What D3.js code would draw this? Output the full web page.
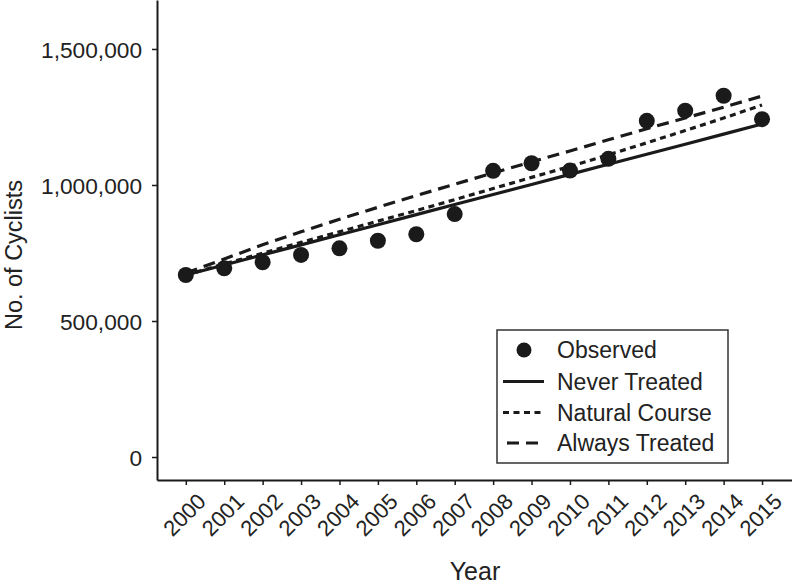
<!DOCTYPE html>
<html>
<head>
<meta charset="utf-8">
<script src="https://cdn.jsdelivr.net/npm/d3@7"></script>
<style>
  html, body { margin: 0; padding: 0; background: #fff; }
  svg { display: block; font-family: "Liberation Sans", Arial, sans-serif; }
</style>
</head>
<body>
<svg id="chart" width="792" height="587"></svg>
<script>
// ---- data ----
const years = [2000, 2001, 2002, 2003, 2004, 2005, 2006, 2007, 2008, 2009, 2010, 2011, 2012, 2013, 2014, 2015];
const observed = [669000, 694000, 716000, 743000, 767000, 795000, 819000, 893000, 1052000, 1080000, 1053000, 1096000, 1236000, 1273000, 1328000, 1242000];
const neverTreated = [669000, 706000, 743000, 780000, 817000, 854000, 891000, 928000, 965000, 1002000, 1039000, 1076000, 1113000, 1150000, 1187000, 1224000];
const naturalCourse = [669000, 710000, 749000, 789000, 828000, 867000, 906000, 946000, 987000, 1028000, 1068000, 1111000, 1155000, 1200000, 1246000, 1294000];
const alwaysTreated = [676000, 728000, 780000, 828000, 874000, 918000, 961000, 1003000, 1044000, 1085000, 1125000, 1166000, 1207000, 1246000, 1286000, 1327000];
const yTicks = [0, 500000, 1000000, 1500000];
const legendLabels = ["Observed", "Never Treated", "Natural Course", "Always Treated"];

// ---- setup ----
const svg = d3.select("#chart");
const ink = "#1a1a1a";
const x = d3.scaleLinear().domain([1999.25, 2015.78]).range([157, 792]);
const y = d3.scaleLinear().domain([-84500, 1680000]).range([480, 0]);

// y axis
const yAxis = svg.append("g").attr("transform", "translate(157,0)")
  .call(d3.axisLeft(y).tickValues(yTicks).tickSize(5).tickSizeOuter(0).tickPadding(10)
        .tickFormat(d3.format(",")));
// x axis
const xAxis = svg.append("g").attr("transform", "translate(0,480)")
  .call(d3.axisBottom(x).tickValues(years).tickSize(5).tickSizeOuter(0).tickFormat(d3.format("d")));

[yAxis, xAxis].forEach(g => {
  g.select(".domain").attr("stroke", ink).attr("stroke-width", 2);
  g.selectAll(".tick line").attr("stroke", ink).attr("stroke-width", 1.5);
  g.selectAll("text").attr("fill", "#222").style("font-family", "Liberation Sans, Arial, sans-serif");
});
yAxis.selectAll("text").attr("font-size", 22.7).attr("dy", "0.36em");
xAxis.selectAll("text")
  .attr("font-size", 22)
  .attr("text-anchor", "end")
  .attr("transform", "translate(10,12) rotate(-45)")
  .attr("x", 0).attr("y", 0).attr("dy", "0.7em");

// axis titles
svg.append("text").attr("x", 475).attr("y", 580).attr("text-anchor", "middle")
  .attr("font-size", 25).attr("fill", "#222").text("Year");
svg.append("text").attr("transform", "translate(22,255) rotate(-90)").attr("text-anchor", "middle")
  .attr("font-size", 23.5).attr("fill", "#222").text("No. of Cyclists");

// lines
const line = d3.line().x(d => x(d[0])).y(d => y(d[1]));
const series = [
  { vals: neverTreated, dash: null },
  { vals: naturalCourse, dash: "6,4.5" },
  { vals: alwaysTreated, dash: "12,7" }
];
series.forEach(s => {
  svg.append("path")
    .datum(years.map((yr, i) => [yr, s.vals[i]]))
    .attr("d", line)
    .attr("fill", "none").attr("stroke", ink).attr("stroke-width", 3.2)
    .attr("stroke-dasharray", s.dash);
});

// points
svg.append("g").selectAll("circle")
  .data(years.map((yr, i) => [yr, observed[i]]))
  .join("circle")
  .attr("cx", d => x(d[0])).attr("cy", d => y(d[1])).attr("r", 8)
  .attr("fill", ink);

// legend
const lg = svg.append("g");
lg.append("rect").attr("x", 497).attr("y", 330).attr("width", 231).attr("height", 133)
  .attr("fill", "#fff").attr("stroke", "#333").attr("stroke-width", 1.5);
const rowY = [350, 381.5, 412.5, 443];
lg.append("circle").attr("cx", 524).attr("cy", rowY[0]).attr("r", 7.5).attr("fill", ink);
series.forEach((s, i) => {
  lg.append("line").attr("x1", s.dash === "12,7" ? 507 : 503).attr("x2", 544)
    .attr("y1", rowY[i + 1]).attr("y2", rowY[i + 1])
    .attr("stroke", ink).attr("stroke-width", 3.2).attr("stroke-dasharray", s.dash);
});
legendLabels.forEach((t, i) => {
  lg.append("text").attr("x", 557).attr("y", rowY[i]).attr("dy", "0.35em")
    .attr("font-size", 23).attr("fill", "#222").text(t);
});
</script>
</body>
</html>
